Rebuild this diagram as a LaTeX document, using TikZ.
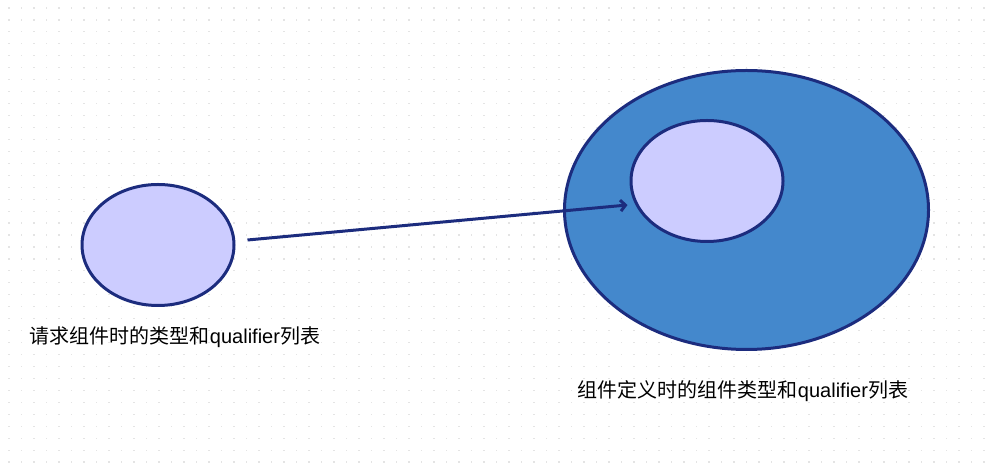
\documentclass[tikz,border=0pt]{standalone}
\usepackage{fontspec}
\setmainfont{Liberation Sans}
\newfontfamily\cjk{Noto Sans CJK SC}
\usetikzlibrary{positioning,shapes.geometric,arrows.meta}
\definecolor{navy}{HTML}{1C2C7E}
\definecolor{lilac}{HTML}{CCCCFF}
\definecolor{azure}{HTML}{4488CC}
\definecolor{griddot}{HTML}{E4E4E4}
\tikzset{
  set/.style={
    ellipse,
    draw=navy,
    line width=3pt,
    inner sep=0pt
  },
  caption/.style={
    font=\fontsize{20}{24}\selectfont,
    inner sep=0pt
  }
}

\begin{document}
\begin{tikzpicture}
      \useasboundingbox (0,0) rectangle (990pt,473pt);
      \fill[white] (0,0) rectangle (990pt,473pt);
      \foreach \i in {0,...,78}
        \foreach \j in {0,...,38}
          \fill[griddot] (9pt+12.5pt*\i-0.6pt,465pt-11.95pt*\j-0.6pt) rectangle ++(1.2pt,1.2pt);

      \node [set, fill=lilac, minimum width=152pt, minimum height=121pt] (Req) at (158pt,228pt) {};
      \node [set, fill=azure, minimum width=364pt, minimum height=279pt] (Outer) at (746.5pt,263pt) {};
      \node [on grid, set, fill=lilac, minimum width=152pt, minimum height=121pt,
        above left=29pt and 39.5pt of Outer] (Inner) {};

      \node [on grid, caption, below right=92pt and 17pt of Req] (ReqText)
      {{\cjk 请求组件时的类型和}qualifier{\cjk 列表}};
      \node [on grid, caption, below left=181pt and 3.5pt of Outer] (DefText)
      {{\cjk 组件定义时的组件类型和}qualifier{\cjk 列表}};

      \coordinate (Tail) at ([xshift=12pt,yshift=5pt]Req.east);
      \coordinate (Head) at ([xshift=-2pt,yshift=-24pt]Inner.west);
      \draw [navy, line width=3pt, -{Straight Barb[length=5pt,width=11pt]}] (Tail) -- (Head);
\end{tikzpicture}
\end{document}
